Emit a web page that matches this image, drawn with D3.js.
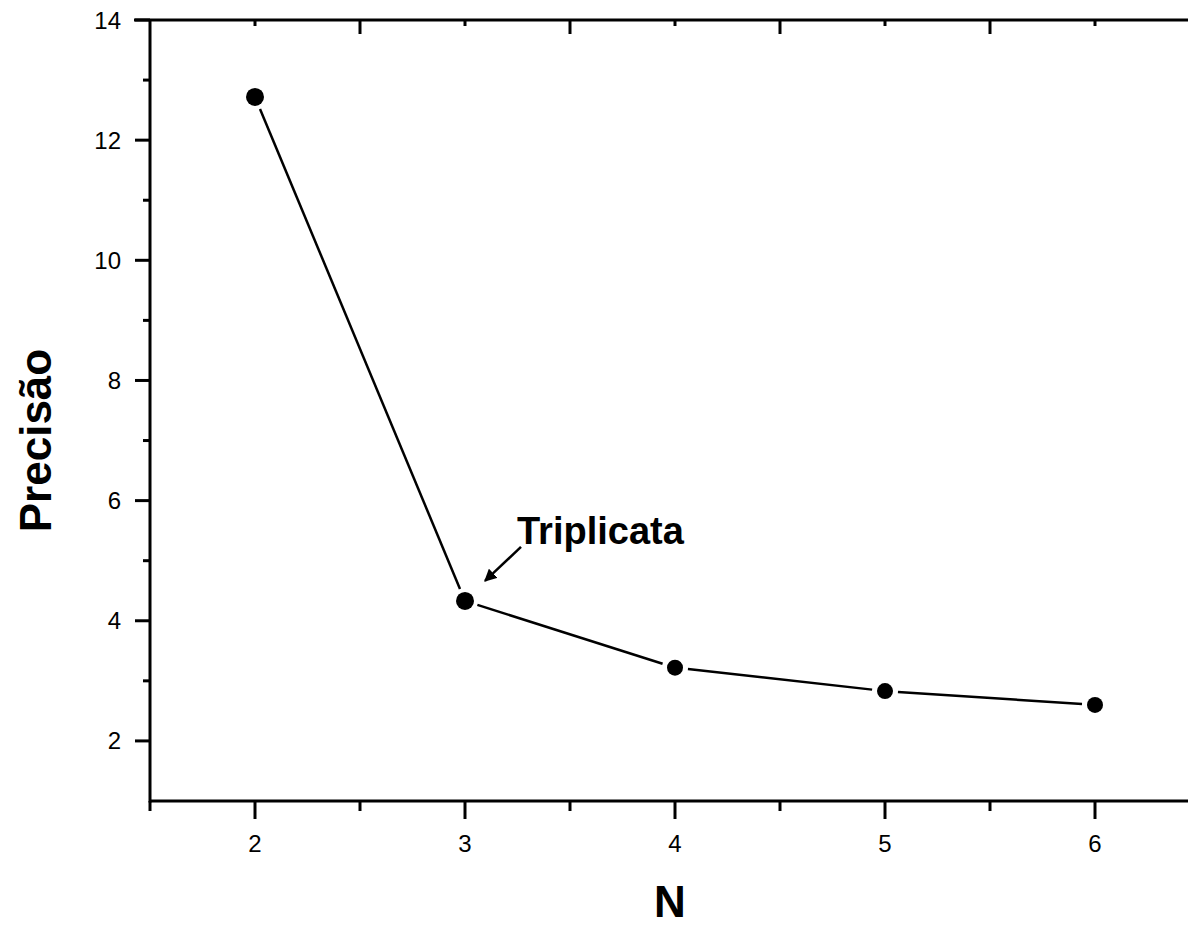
<!DOCTYPE html>
<html>
<head>
<meta charset="utf-8">
<script src="https://cdn.jsdelivr.net/npm/d3@7"></script>
<style>
  html, body { margin: 0; padding: 0; background: #fff; overflow: hidden; }
  svg { display: block; font-family: "Liberation Sans", Arial, sans-serif; }
</style>
</head>
<body>
<div id="chart"></div>
<script>
// data
const nValues = [2, 3, 4, 5, 6];
const precisao = [12.72, 4.33, 3.22, 2.83, 2.6];
const xTickLabels = ["2", "3", "4", "5", "6"];
const yTickValues = [2, 4, 6, 8, 10, 12, 14];
const annotationText = "Triplicata";
const annotationAt = 3;

const width = 1188, height = 926;

const svg = d3.select("#chart").append("svg")
    .attr("width", width)
    .attr("height", height);

const x = d3.scaleLinear().domain([1.5, 6.5]).range([150, 1200]);
const y = d3.scaleLinear().domain([1, 14]).range([801, 20]);

const axisColor = "#000";
const lw = 3;

// frame lines
svg.append("line")
    .attr("x1", x(1.5)).attr("x2", x(6.5))
    .attr("y1", y(1)).attr("y2", y(1))
    .attr("stroke", axisColor).attr("stroke-width", lw);
svg.append("line")
    .attr("x1", x(1.5) - 16).attr("x2", x(6.5))
    .attr("y1", y(14)).attr("y2", y(14))
    .attr("stroke", axisColor).attr("stroke-width", lw);
svg.append("line")
    .attr("x1", x(1.5)).attr("x2", x(1.5))
    .attr("y1", y(14)).attr("y2", y(1) + 1.5)
    .attr("stroke", axisColor).attr("stroke-width", lw);

// bottom axis: majors at integers, minors at halves (outward)
const xMajor = d3.range(2, 7);
const xMinor = d3.range(1.5, 6.6, 1);
svg.selectAll(".xmaj").data(xMajor).join("line")
    .attr("x1", d => x(d)).attr("x2", d => x(d))
    .attr("y1", y(1)).attr("y2", y(1) + 18)
    .attr("stroke", axisColor).attr("stroke-width", lw);
svg.selectAll(".xmin").data(xMinor).join("line")
    .attr("x1", d => x(d)).attr("x2", d => x(d))
    .attr("y1", y(1)).attr("y2", y(1) + 10)
    .attr("stroke", axisColor).attr("stroke-width", lw);
svg.selectAll(".xlab").data(xMajor).join("text")
    .attr("x", d => x(d))
    .attr("y", y(1) + 51)
    .attr("text-anchor", "middle")
    .attr("font-size", 24)
    .text((d, i) => xTickLabels[i]);

// top axis (inward ticks, long at halves, short at integers)
svg.selectAll(".tmaj").data(d3.range(2.5, 6.1, 1)).join("line")
    .attr("x1", d => x(d)).attr("x2", d => x(d))
    .attr("y1", y(14)).attr("y2", y(14) + 14)
    .attr("stroke", axisColor).attr("stroke-width", lw);
svg.selectAll(".tmin").data(xMajor).join("line")
    .attr("x1", d => x(d)).attr("x2", d => x(d))
    .attr("y1", y(14)).attr("y2", y(14) + 6)
    .attr("stroke", axisColor).attr("stroke-width", lw);

// left axis: majors at even, minors at odd (outward)
const yMinor = d3.range(3, 14, 2);
svg.selectAll(".ymaj").data(yTickValues).join("line")
    .attr("x1", x(1.5) - 15).attr("x2", x(1.5))
    .attr("y1", d => y(d)).attr("y2", d => y(d))
    .attr("stroke", axisColor).attr("stroke-width", lw);
svg.selectAll(".ymin").data(yMinor).join("line")
    .attr("x1", x(1.5) - 7).attr("x2", x(1.5))
    .attr("y1", d => y(d)).attr("y2", d => y(d))
    .attr("stroke", axisColor).attr("stroke-width", lw);
svg.selectAll(".ylab").data(yTickValues).join("text")
    .attr("x", x(1.5) - 29)
    .attr("y", d => y(d) + 8.5)
    .attr("text-anchor", "end")
    .attr("font-size", 24)
    .text(d => d);

// axis titles
svg.append("text")
    .attr("transform", `translate(51, ${(y(1) + y(14)) / 2 + 30}) rotate(-90)`)
    .attr("text-anchor", "middle")
    .attr("font-size", 44)
    .attr("font-weight", "bold")
    .text("Precisão");
svg.append("text")
    .attr("x", 670)
    .attr("y", 917)
    .attr("text-anchor", "middle")
    .attr("font-size", 44)
    .attr("font-weight", "bold")
    .text("N");

// line segments with a gap around each marker
const pts = nValues.map((n, i) => [x(n), y(precisao[i])]);
const gap = 13;
const segs = d3.pairs(pts).map(([a, b]) => {
    const dx = b[0] - a[0], dy = b[1] - a[1];
    const len = Math.hypot(dx, dy);
    const ux = dx / len, uy = dy / len;
    return [a[0] + ux * gap, a[1] + uy * gap, b[0] - ux * gap, b[1] - uy * gap];
});
svg.selectAll(".seg").data(segs).join("line")
    .attr("x1", d => d[0]).attr("y1", d => d[1])
    .attr("x2", d => d[2]).attr("y2", d => d[3])
    .attr("stroke", "#000").attr("stroke-width", 2.5);

svg.selectAll(".pt").data(nValues).join("circle")
    .attr("cx", d => x(d))
    .attr("cy", (d, i) => y(precisao[i]))
    .attr("r", (d, i) => i < 2 ? 9 : 8)
    .attr("fill", "#000");

// annotation
const ax = x(annotationAt), ay = y(precisao[nValues.indexOf(annotationAt)]);
svg.append("defs").append("marker")
    .attr("id", "arrow")
    .attr("viewBox", "0 0 10 10")
    .attr("refX", 9).attr("refY", 5)
    .attr("markerWidth", 5).attr("markerHeight", 5)
    .attr("orient", "auto")
    .append("path").attr("d", "M0,0 L10,5 L0,10 z").attr("fill", "#000");
svg.append("line")
    .attr("x1", ax + 56).attr("y1", ay - 54)
    .attr("x2", ax + 20).attr("y2", ay - 20)
    .attr("stroke", "#000").attr("stroke-width", 2.5)
    .attr("marker-end", "url(#arrow)");
svg.append("text")
    .attr("x", ax + 52)
    .attr("y", ay - 57)
    .attr("font-size", 38)
    .attr("font-weight", "bold")
    .text(annotationText);
</script>
</body>
</html>
